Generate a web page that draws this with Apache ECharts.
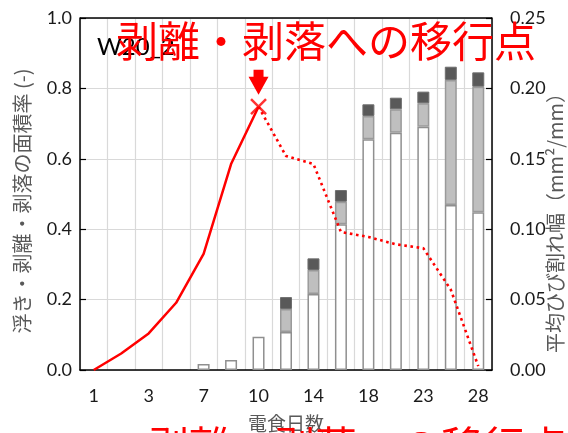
<!DOCTYPE html>
<html>
<head>
<meta charset="utf-8">
<script src="https://cdn.jsdelivr.net/npm/echarts@6/dist/echarts.min.js"></script>
<style>
  html, body { margin: 0; padding: 0; background: #fff; }
  #chart { width: 568px; height: 433px; }
</style>
</head>
<body>
<div id="chart"></div>
<script>
// Days of electrolytic corrosion (every other one is labelled)
const days = ['1', '2', '3', '5', '7', '8', '10', '12', '14', '16', '18', '20', '23', '25', '28'];

// Area ratio of lifting / delamination / spalling (left axis)
const areaRatio = [0, 0.047, 0.104, 0.191, 0.33, 0.585, 0.748, 0.608, 0.585, 0.392, 0.378, 0.357, 0.346, 0.228, 0.011];
// Index of the transition point to delamination / spalling
const transitionIndex = 6;

// Average crack width, stacked in three parts (right axis)
const crackWhite = [0, 0, 0, 0, 0.0043, 0.0071, 0.0237, 0.027, 0.054, 0.1035, 0.1638, 0.1685, 0.1728, 0.1172, 0.112];
const crackGray  = [0, 0, 0, 0, 0, 0, 0, 0.0163, 0.017, 0.016, 0.0166, 0.0167, 0.0166, 0.0888, 0.0892];
const crackDark  = [0, 0, 0, 0, 0, 0, 0, 0.0085, 0.0083, 0.0083, 0.0083, 0.0082, 0.0083, 0.0094, 0.0102];

const leftTicks = { min: 0, max: 1.0, step: 0.2 };
const rightTicks = { min: 0, max: 0.25, step: 0.05 };

const RED = '#ff0000';
const tickFont = 'Lato, "Liberation Sans", sans-serif';
const cjkFont = '"Noto Sans CJK JP", sans-serif';

const nz = v => (v > 0 ? v : null);

const solidPart = areaRatio.map((v, i) => (i <= transitionIndex ? v : null));
const dottedPart = areaRatio.map((v, i) => (i >= transitionIndex ? v : null));

const chart = echarts.init(document.getElementById('chart'), null, { renderer: 'canvas' });

const option = {
  animation: false,
  backgroundColor: '#ffffff',
  grid: { left: 80, right: 76, top: 18, bottom: 63, show: false, outerBoundsMode: 'none', containLabel: false },
  xAxis: {
    type: 'category',
    data: days,
    boundaryGap: true,
    axisLine: { show: true, lineStyle: { color: '#000', width: 1.5 } },
    axisTick: { show: false },
    axisLabel: { interval: 1, color: '#1a1a1a', fontSize: 18, fontFamily: tickFont, margin: 17 },
    splitLine: { show: true, interval: 0, lineStyle: { color: '#d9d9d9', width: 1.2 } },
    name: '電食日数',
    nameLocation: 'middle',
    nameGap: 44,
    nameTextStyle: { color: '#595959', fontSize: 19, fontFamily: cjkFont }
  },
  yAxis: [
    {
      type: 'value',
      min: leftTicks.min, max: leftTicks.max, interval: leftTicks.step,
      axisLine: { show: true, lineStyle: { color: '#000', width: 1.5 } },
      axisTick: { show: true, inside: true, length: 6, lineStyle: { color: '#000', width: 1.2 } },
      axisLabel: { color: '#1a1a1a', fontSize: 18, fontFamily: tickFont, margin: 8,
        formatter: v => v.toFixed(1) },
      splitLine: { show: true, lineStyle: { color: '#d9d9d9', width: 1.2 } }
    },
    {
      type: 'value',
      min: rightTicks.min, max: rightTicks.max, interval: rightTicks.step,
      position: 'right',
      axisLine: { show: true, lineStyle: { color: '#000', width: 1.5 } },
      axisTick: { show: true, inside: true, length: 6, lineStyle: { color: '#000', width: 1.2 } },
      axisLabel: { color: '#1a1a1a', fontSize: 18, fontFamily: tickFont, margin: 18,
        formatter: v => v.toFixed(2) },
      splitLine: { show: false }
    }
  ],
  series: [
    {
      name: 'crackWhite', type: 'bar', stack: 'crack', yAxisIndex: 1, barWidth: 12,
      data: crackWhite.map(nz),
      itemStyle: { color: '#ffffff', borderColor: '#8f8f8f', borderWidth: 1.5 },
      z: 2
    },
    {
      name: 'crackGray', type: 'bar', stack: 'crack', yAxisIndex: 1, barWidth: 12,
      data: crackGray.map(nz),
      itemStyle: { color: '#bfbfbf', borderColor: '#9a9a9a', borderWidth: 1.5 },
      z: 2
    },
    {
      name: 'crackDark', type: 'bar', stack: 'crack', yAxisIndex: 1, barWidth: 12,
      data: crackDark.map(nz),
      itemStyle: { color: '#595959', borderColor: '#6e6e6e', borderWidth: 1 },
      z: 2
    },
    {
      name: 'areaSolid', type: 'line', yAxisIndex: 0,
      data: solidPart, showSymbol: false, symbol: 'none',
      lineStyle: { color: RED, width: 2.5 },
      z: 4
    },
    {
      name: 'areaDotted', type: 'line', yAxisIndex: 0,
      data: dottedPart, showSymbol: false, symbol: 'none',
      lineStyle: { color: RED, width: 2.6, type: [2.6, 3.6] },
      z: 4
    },
    {
      name: 'transition', type: 'scatter', yAxisIndex: 0,
      data: [[transitionIndex, areaRatio[transitionIndex]]],
      symbol: 'path://M0,0L1,1M1,0L0,1',
      symbolSize: 15,
      itemStyle: { color: 'rgba(0,0,0,0)', borderColor: RED, borderWidth: 2.5 },
      z: 5
    }
  ]
};

chart.setOption(option);

// Annotation arrow pointing down at the transition point
const peak = chart.convertToPixel({ xAxisIndex: 0, yAxisIndex: 0 }, [transitionIndex, areaRatio[transitionIndex]]);
const ax = peak[0];
const tipY = peak[1] - 12;

chart.setOption({
  graphic: [
    {
      type: 'text', left: 147, top: 425, z: 1,
      style: { text: '剥離・剥落への移行点', fill: RED, font: '42px ' + cjkFont }
    },
    {
      type: 'polygon', z: 10,
      shape: { points: [[ax - 5, tipY - 25], [ax + 5, tipY - 25], [ax + 5, tipY - 18], [ax + 10, tipY - 18], [ax, tipY], [ax - 10, tipY - 18], [ax - 5, tipY - 18]] },
      style: { fill: RED }
    },
    {
      type: 'text', x: 97, y: 47, z: 9,
      style: { text: 'W20_2', fill: '#000', font: '24px ' + tickFont, verticalAlign: 'middle' }
    },
    {
      type: 'text', x: 116, y: 41, z: 10,
      style: { text: '剥離・剥落への移行点', fill: RED, font: '42px ' + cjkFont, verticalAlign: 'middle' }
    },
    {
      type: 'text', x: 22, y: 201, rotation: Math.PI / 2, z: 10,
      style: { text: '浮き・剥離・剥落の面積率 (-)', fill: '#595959', font: '20px ' + cjkFont, align: 'center', verticalAlign: 'middle' }
    },
    {
      type: 'text', x: 555, y: 218, rotation: Math.PI / 2, z: 10,
      style: { text: '平均ひび割れ幅（mm²/mm）', fill: '#595959', font: '20px ' + cjkFont, align: 'center', verticalAlign: 'middle' }
    },
    {
      type: 'line', z: 3,
      shape: { x1: 80, y1: 18, x2: 492, y2: 18 },
      style: { stroke: '#000', lineWidth: 1.5 }
    }
  ]
});
</script>
</body>
</html>
